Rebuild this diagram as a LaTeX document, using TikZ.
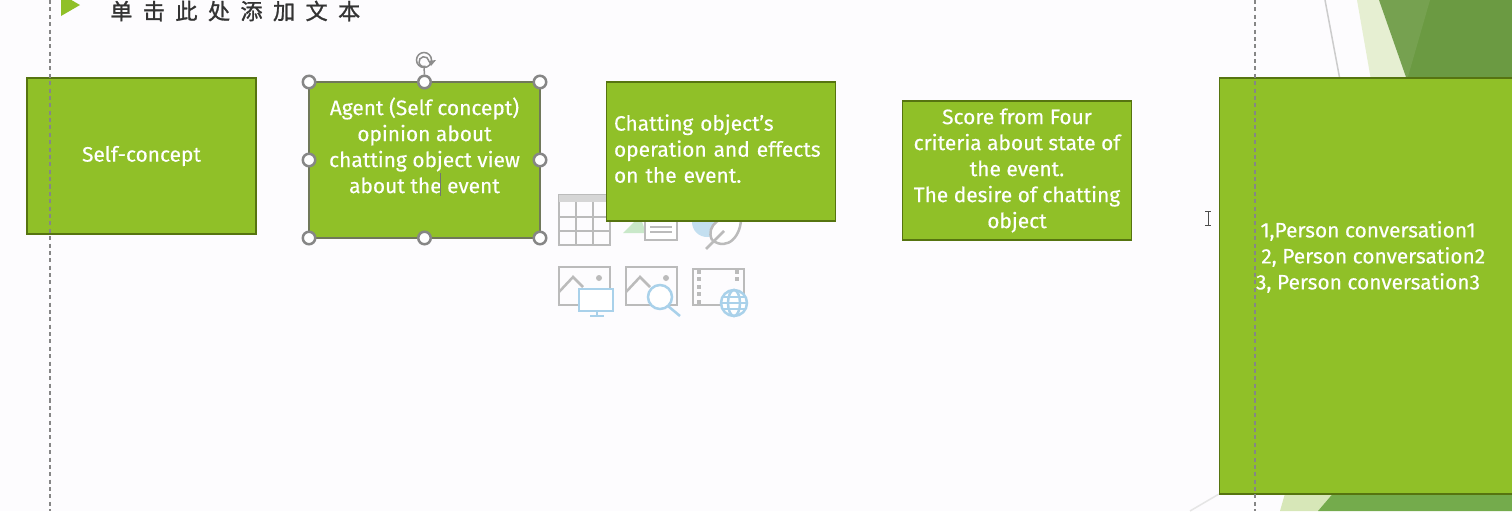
\documentclass[tikz,border=0pt]{standalone}
\usepackage{xcolor}
\usepackage{fontspec}
\setmainfont[FakeBold=0.35]{Fira Sans}
\newfontfamily\cjk[LetterSpace=47,FakeBold=1.2]{Noto Sans CJK SC}
\definecolor{pagebg}{HTML}{FDFCFE}
\definecolor{boxgreen}{HTML}{90C028}
\definecolor{boxedge}{HTML}{567410}
\definecolor{agentedge}{HTML}{70785A}
\definecolor{icongray}{HTML}{BBBBBB}
\definecolor{iconblue}{HTML}{A9D1EA}
\definecolor{guidegray}{HTML}{868686}
\definecolor{topdark}{HTML}{6B9A42}
\definecolor{toplight}{HTML}{E6EFD2}
\definecolor{lowgreen}{HTML}{74AB4C}
\definecolor{lowlight}{HTML}{D7E7B8}
\tikzset{
    greenbox/.style={draw=boxedge, fill=boxgreen, line width=0.03cm, text=white, align=center, inner sep=0pt, outer sep=0pt, font=\fontsize{11.9}{14.8}\selectfont},
    sizehandle/.style={draw=gray!95, fill=white, circle, line width=0.05cm, minimum size=0.25cm, inner sep=0pt},
    iconline/.style={draw=icongray, line width=0.05cm},
    iconblueline/.style={draw=iconblue, line width=0.05cm},
    guideline/.style={draw=guidegray, line width=0.05cm, dash pattern=on 2.3pt off 1.9pt}
}

\begin{document}
\begin{tikzpicture}[x=0.02cm, y=-0.02cm]
        \useasboundingbox (0, 0) rectangle (1512, 511);
        \clip (0, 0) rectangle (1512, 511);
        \fill[pagebg] (0, 0) rectangle (1512, 511);

        % slide decoration, right side
        \draw[gray!40, line width=0.03cm] (1325, 0) -- (1340, 80);
        \fill[toplight] (1357, 0) -- (1379, 0) -- (1407, 80) -- (1371, 80) -- cycle;
        \fill[topdark] (1379, 0) -- (1512, 0) -- (1512, 80) -- (1407, 80) -- cycle;
        \fill[white, opacity=0.08] (1379, 0) -- (1430, 0) -- (1407, 80) -- cycle;
        \draw[gray!20, line width=0.03cm] (1190, 511) -- (1219, 494);
        \fill[lowlight] (1286, 490) -- (1340, 490) -- (1318, 511) -- (1280, 511) -- cycle;
        \fill[lowgreen] (1336, 490) -- (1512, 490) -- (1512, 511) -- (1318, 511) -- cycle;

        % title
        \fill[boxgreen] (61, -6) -- (80, 5) -- (61, 16) -- cycle;
        \node[anchor=west, inner sep=0pt, text=black!80, font=\cjk\fontsize{12.6}{14}\selectfont] (title) at (110, 11) {单击此处添加文本};

        % placeholder icons
        \draw[iconline] (559, 195) rectangle (610, 245);
        \fill[icongray!60] (559, 195) rectangle (610, 202);
        \draw[iconline] (576, 202) -- (576, 245) (593, 202) -- (593, 245) (559, 217) -- (610, 217) (559, 231) -- (610, 231);
        \fill[green!40!gray!30] (623, 233) -- (640, 216) -- (646, 233) -- cycle;
        \draw[iconline, fill=white] (645, 215) rectangle (677, 240);
        \draw[iconline] (650, 227) -- (672, 227) (650, 232) -- (672, 232);
        \fill[iconblue!70] (707, 222) circle (15);
        \draw[iconline, fill=white] (712, 240) .. controls (705, 225) and (722, 214) .. (741, 216) .. controls (742, 235) and (728, 252) .. (712, 240);
        \draw[iconline] (706, 249) -- (724, 231);

        \draw[iconline] (559, 267) rectangle (610, 305);
        \draw[iconline] (559, 292) -- (573, 277) -- (583, 287);
        \fill[icongray] (599, 278) circle (3);
        \draw[iconblueline, fill=white] (579, 289) rectangle (613, 311);
        \draw[iconblueline] (597, 311) -- (597, 316) (590, 316) -- (604, 316);

        \draw[iconline] (626, 267) rectangle (677, 305);
        \draw[iconline] (626, 292) -- (640, 277) -- (650, 287);
        \fill[icongray] (666, 278) circle (3);
        \draw[iconblueline, fill=white] (660, 297) circle (12);
        \draw[iconblueline] (668, 306) -- (680, 316);

        \draw[iconline] (693, 269) rectangle (744, 305);
        \foreach \y in {272, 279, 287, 294, 302} {
            \fill[icongray] (697, \y-2) rectangle (701, \y+2);
        }
        \foreach \y in {272, 279} {
            \fill[icongray] (735, \y-2) rectangle (739, \y+2);
        }
        \draw[iconblueline, fill=white] (734, 303) circle (13);
        \draw[iconblueline] (734, 303) ellipse (6 and 13);
        \draw[iconblueline] (721, 303) -- (747, 303) (723, 297) -- (745, 297) (723, 309) -- (745, 309);

        % boxes
        \node[greenbox, minimum width=4.58cm, minimum height=3.12cm] at (141.5, 156) (self) {Self-concept};
        \node[greenbox, draw=agentedge, line width=0.05cm, minimum width=4.62cm, minimum height=3.12cm] at (424.5, 160) (agent) {Agent (Self concept)\\opinion about\\chatting object view\\about the event\\[2pt]\mbox{}};
        \node[greenbox, align=left, minimum width=4.58cm, minimum height=2.78cm, text width=4.28cm] at (721, 151.5) (chat) {Chatting object’s\\operation and effects\\on the event.\\[-11.4pt]\mbox{}};
        \node[greenbox, minimum width=4.58cm, minimum height=2.78cm] at (1017, 170.5) (score) {Score from Four\\criteria about state of\\the event.\\The desire of chatting\\object};
        \node[greenbox, minimum width=6.1cm, minimum height=8.32cm] at (1372, 286) (people) {};
        \node[text=white, align=center, inner sep=0pt, font=\fontsize{11.9}{14.8}\selectfont] at (1368, 257) (peopletext) {1,Person conversation1\\ \hspace*{6pt}2, Person conversation2\\3, Person conversation3};

        % selection frame of the second box
        \foreach \a/\n in {north west/h1, north/h2, north east/h3, west/h4, east/h5, south west/h6, south/h7, south east/h8} {
            \node[sizehandle] at (agent.\a) (\n) {};
        }
        \node[draw=gray!90, circle, line width=0.03cm, minimum size=0.3cm, inner sep=0pt] at (424, 60) (rotate) {};
        \draw[gray!90, line width=0.03cm] (rotate) -- (h2);
        \draw[gray!90, line width=0.03cm] (424, 60) ++(10:5) arc[start angle=-10, end angle=-290, radius=5];
        \fill[gray!90] (428, 61) -- (436, 60) -- (431, 66) -- cycle;
        \draw[black!55, line width=0.02cm] (440, 173) -- (440, 196);

        % guides
        \draw[guideline] (50, 0) -- (50, 511);
        \draw[guideline] (1255, 0) -- (1255, 511);

        % mouse cursor
        \draw[black!70, line width=0.02cm] (1208, 211) -- (1208, 225) (1205, 211) -- (1211, 211) (1205, 225) -- (1211, 225);
    \end{tikzpicture}
\end{document}
